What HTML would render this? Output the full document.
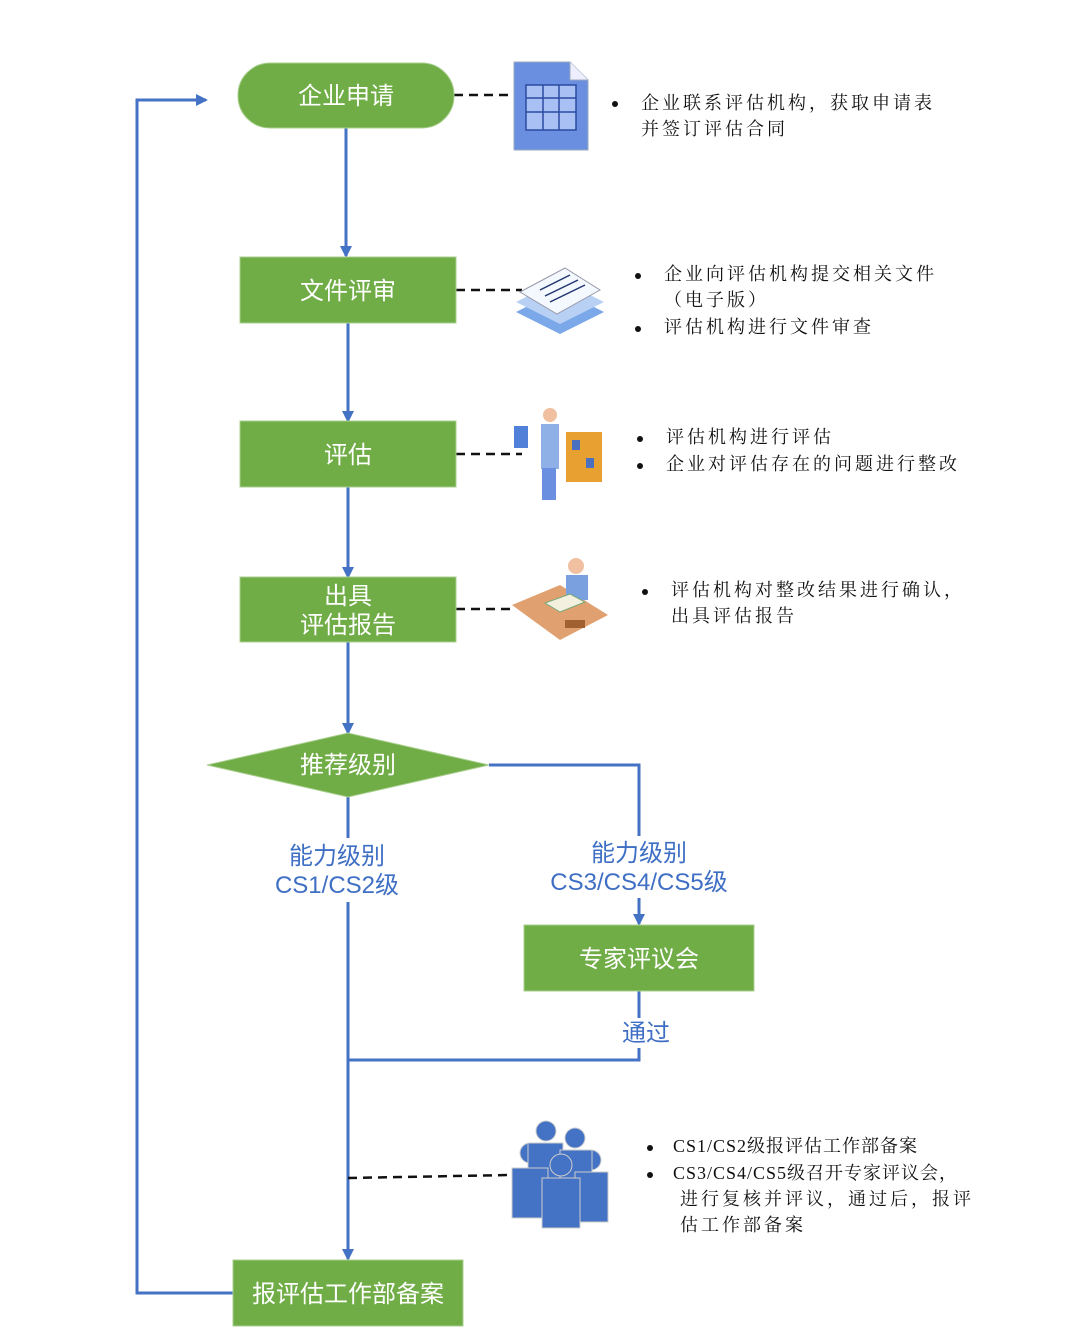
<!DOCTYPE html>
<html><head><meta charset="utf-8"><style>
body{margin:0;background:#fff;}
svg text{font-family:"Liberation Sans","Noto Sans CJK SC",sans-serif;}
.b{fill:#fff;font-size:24px;text-anchor:middle;}
.l{fill:#3f6fc4;font-size:24px;text-anchor:middle;}
.d{font-family:"Liberation Serif","Noto Serif CJK SC",serif !important;font-size:18px;fill:#111;letter-spacing:3px;}
</style></head><body>
<svg width="1080" height="1328" viewBox="0 0 1080 1328" xmlns="http://www.w3.org/2000/svg">
<defs><marker id="a" markerWidth="12" markerHeight="12" refX="10" refY="6" orient="auto" markerUnits="userSpaceOnUse"><path d="M0,0 L12,6 L0,12 z" fill="#4472c4"/></marker></defs>
<g stroke="#4472c4" stroke-width="3" fill="none">
<line x1="346" y1="128" x2="346" y2="256" marker-end="url(#a)"/>
<line x1="348" y1="323" x2="348" y2="421" marker-end="url(#a)"/>
<line x1="348" y1="487" x2="348" y2="577" marker-end="url(#a)"/>
<line x1="348" y1="642" x2="348" y2="733" marker-end="url(#a)"/>
<line x1="348" y1="797" x2="348" y2="838"/>
<line x1="348" y1="902" x2="348" y2="1259" marker-end="url(#a)"/>
<polyline points="489,765 639,765 639,836"/>
<line x1="639" y1="898" x2="639" y2="924" marker-end="url(#a)"/>
<line x1="639" y1="991" x2="639" y2="1018"/>
<polyline points="639,1048 639,1060 348,1060"/>
<polyline points="233,1293 137,1293 137,100 206,100" marker-end="url(#a)"/>
</g>
<g stroke="#111" stroke-width="2.5" stroke-dasharray="9,6" fill="none">
<line x1="454" y1="95" x2="514" y2="95"/>
<line x1="456" y1="290" x2="522" y2="290"/>
<line x1="456" y1="454" x2="522" y2="454"/>
<line x1="456" y1="609" x2="515" y2="609"/>
<line x1="348" y1="1178" x2="510" y2="1175"/>
</g>
<g fill="#70ad47" stroke="#a9cf8f" stroke-width="1">
<rect x="238" y="63" width="216" height="65" rx="32"/>
<rect x="240" y="257" width="216" height="66"/>
<rect x="240" y="421" width="216" height="66"/>
<rect x="240" y="577" width="216" height="65"/>
<polygon points="207,765 348,733 489,765 348,797"/>
<rect x="524" y="925" width="230" height="66"/>
<rect x="233" y="1260" width="230" height="66"/>
</g>
<text class="b" x="346" y="104">企业申请</text>
<text class="b" x="348" y="299">文件评审</text>
<text class="b" x="348" y="463">评估</text>
<text class="b" x="348" y="604">出具</text>
<text class="b" x="348" y="633">评估报告</text>
<text class="b" x="348" y="773">推荐级别</text>
<text class="b" x="639" y="967">专家评议会</text>
<text class="b" x="348" y="1302">报评估工作部备案</text>
<text class="l" x="337" y="864">能力级别</text>
<text class="l" x="337" y="893">CS1/CS2级</text>
<text class="l" x="639" y="861">能力级别</text>
<text class="l" x="639" y="890">CS3/CS4/CS5级</text>
<text class="l" x="646" y="1041">通过</text>
<path d="M514,62 L570,62 L588,80 L588,150 L514,150 Z" fill="#6a8fe0" stroke="#9ab" />
<path d="M570,62 L570,80 L588,80" fill="#eef" stroke="#9ab"/>
<g stroke="#2a4aa0" stroke-width="1.5" fill="#a8c0f4"><rect x="526" y="85" width="50" height="45"/><line x1="526" y1="98" x2="576" y2="98"/><line x1="526" y1="112" x2="576" y2="112"/><line x1="543" y1="85" x2="543" y2="130"/><line x1="559" y1="85" x2="559" y2="130"/></g>
<polygon points="516,312 560,290 604,312 560,334" fill="#7aa8e8"/>
<polygon points="516,302 560,280 604,302 560,324" fill="#b8d0f4"/>
<polygon points="520,292 565,268 600,290 557,314" fill="#f4f8ff" stroke="#99a"/>
<g stroke="#23366e" stroke-width="1.5"><line x1="540" y1="290" x2="570" y2="275"/><line x1="545" y1="296" x2="578" y2="280"/><line x1="550" y1="302" x2="585" y2="285"/></g>
<circle cx="550" cy="415" r="7" fill="#f0c0a0"/>
<rect x="541" y="424" width="18" height="45" fill="#8fb0e6"/>
<rect x="542" y="468" width="14" height="32" fill="#6a8fe0"/>
<rect x="514" y="426" width="14" height="22" fill="#5080d8"/>
<rect x="566" y="432" width="36" height="50" fill="#e8a030"/>
<rect x="572" y="440" width="8" height="10" fill="#4a70c0"/><rect x="586" y="458" width="8" height="10" fill="#4a70c0"/>
<polygon points="512,605 560,585 608,615 560,640" fill="#e0a070"/>
<circle cx="576" cy="566" r="8" fill="#f0c0a0"/>
<rect x="566" y="575" width="22" height="25" fill="#7aa0e0"/>
<polygon points="545,603 570,594 585,602 560,612" fill="#f4f0e0" stroke="#7a7"/>
<rect x="565" y="620" width="20" height="8" fill="#a06030"/>
<g fill="#4472c4" stroke="#ccc" stroke-width="1">
<circle cx="546" cy="1131" r="10"/><circle cx="575" cy="1138" r="10"/>
<circle cx="530" cy="1153" r="10"/><circle cx="591" cy="1160" r="10"/>
<path d="M528,1143 h35 v35 h-35z"/><path d="M560,1150 h32 v35 h-32z"/>
<path d="M512,1168 h36 v50 h-36z"/><path d="M575,1172 h33 v50 h-33z"/>
<circle cx="561" cy="1165" r="11"/>
<path d="M542,1178 h38 v50 h-38z"/>
</g>
<g fill="#111">
<circle cx="615" cy="104" r="3"/>
<circle cx="638" cy="276" r="3"/><circle cx="638" cy="329" r="3"/>
<circle cx="640" cy="439" r="3"/><circle cx="640" cy="466" r="3"/>
<circle cx="645" cy="592" r="3"/>
<circle cx="650" cy="1148" r="3"/><circle cx="650" cy="1175" r="3"/>
</g>
<g class="d">
<text class="d" x="641" y="109">企业联系评估机构，获取申请表</text>
<text class="d" x="641" y="135">并签订评估合同</text>
<text class="d" x="664" y="280">企业向评估机构提交相关文件</text>
<text class="d" x="664" y="306">（电子版）</text>
<text class="d" x="664" y="333">评估机构进行文件审查</text>
<text class="d" x="666" y="443">评估机构进行评估</text>
<text class="d" x="666" y="470">企业对评估存在的问题进行整改</text>
<text class="d" x="671" y="596">评估机构对整改结果进行确认，</text>
<text class="d" x="671" y="622">出具评估报告</text>
<text class="d" x="673" y="1152" style="letter-spacing:1px">CS1/CS2级报评估工作部备案</text>
<text class="d" x="673" y="1179" style="letter-spacing:1px">CS3/CS4/CS5级召开专家评议会，</text>
<text class="d" x="680" y="1205">进行复核并评议，通过后，报评</text>
<text class="d" x="680" y="1231">估工作部备案</text>
</g>
</svg>
</body></html>
